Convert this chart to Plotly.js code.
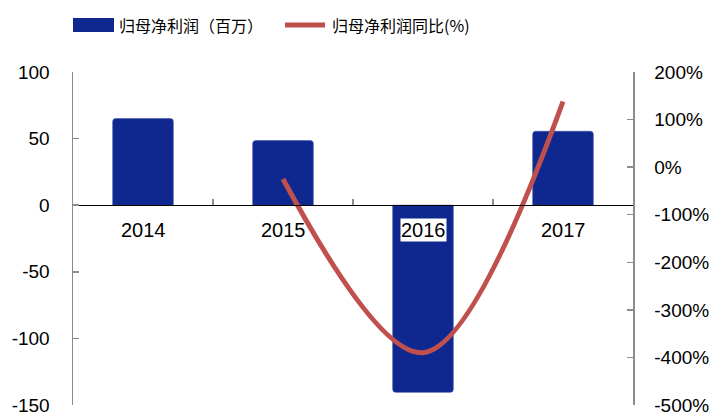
<!DOCTYPE html>
<html>
<head>
<meta charset="utf-8">
<script src="https://cdn.plot.ly/plotly-3.0.1.min.js"></script>
<style>html,body{margin:0;padding:0;background:#fff;}#chart{width:716px;height:412px;}</style>
</head>
<body>
<div id="chart"></div>
<script>
var categories = ['2014', '2015', '2016', '2017'];
var profitValues = [65, 48.5, -140.5, 55.5];
var growthCategories = ['2015', '2016', '2017'];
var growthValues = [-25, -390, 138];
var seriesNames = ['归母净利润（百万）', '归母净利润同比(%)'];
var leftTickVals = [100, 50, 0, -50, -100, -150];
var leftTickText = ['100', '50', '0', '-50', '-100', '-150'];
var rightTickVals = [200, 100, 0, -100, -200, -300, -400, -500];
var rightTickText = ['200%', '100%', '0%', '-100%', '-200%', '-300%', '-400%', '-500%'];

var barColor = '#0F2890';
var lineColor = '#C0504D';
var axisColor = '#8C8C8C';
var cjk = '"Noto Sans CJK SC", "Liberation Sans", Arial, sans-serif';
var latin = '"Liberation Sans", Arial, sans-serif';

var traces = [
  {
    type: 'bar', name: seriesNames[0], x: categories, y: profitValues,
    marker: {color: barColor, cornerradius: 3, line: {color: '#3A4FA8', width: 0.6}},
    yaxis: 'y', hoverinfo: 'skip', showlegend: false
  },
  {
    type: 'scatter', mode: 'lines', name: seriesNames[1], x: growthCategories, y: growthValues,
    line: {color: lineColor, width: 5, shape: 'spline', smoothing: 1},
    yaxis: 'y2', hoverinfo: 'skip', showlegend: false
  }
];

var annotations = categories.map(function (c, i) {
  return {
    x: i, y: 0, xref: 'x', yref: 'y', text: c, showarrow: false,
    xanchor: 'center', yanchor: 'middle', yshift: -25,
    bgcolor: profitValues[i] < 0 ? '#ffffff' : 'rgba(0,0,0,0)', borderpad: 0,
    font: {family: latin, size: 20, color: '#000'}
  };
});
annotations.push({
  x: 0.0786, y: 1.141, xref: 'paper', yref: 'paper', text: seriesNames[0], showarrow: false,
  xanchor: 'left', yanchor: 'middle', font: {family: cjk, size: 16, color: '#000'}
});
annotations.push({
  x: 0.459, y: 1.141, xref: 'paper', yref: 'paper', text: seriesNames[1], showarrow: false,
  xanchor: 'left', yanchor: 'middle', font: {family: cjk, size: 16, color: '#000'}
});

var shapes = [
  {type: 'rect', xref: 'paper', yref: 'paper', x0: 0, x1: 0.0732, y0: 1.120, y1: 1.162,
   fillcolor: barColor, line: {width: 0}},
  {type: 'line', xref: 'paper', yref: 'paper', x0: 0.3786, x1: 0.45, y0: 1.141, y1: 1.141,
   line: {color: lineColor, width: 5}}
];

var layout = {
  width: 716, height: 412,
  margin: {l: 73, r: 83, t: 72, b: 7, pad: 0},
  paper_bgcolor: '#fff', plot_bgcolor: 'rgba(0,0,0,0)',
  showlegend: false,
  bargap: 0.567,
  xaxis: {
    type: 'category', range: [-0.5, 3.5], anchor: 'free', position: 0.6,
    showline: true, linecolor: '#000', linewidth: 1,
    ticks: 'inside', tickson: 'boundaries', ticklen: 6, tickcolor: axisColor, tickwidth: 1.5,
    showticklabels: false, showgrid: false, zeroline: false, fixedrange: true
  },
  yaxis: {
    range: [-150, 100], tickmode: 'array', tickvals: leftTickVals, ticktext: leftTickText,
    showline: true, linecolor: axisColor, linewidth: 1.5,
    ticks: 'inside', ticklen: 6, tickcolor: axisColor, tickwidth: 1.5,
    showgrid: false, zeroline: false, ticklabeloverflow: 'allow',
    tickfont: {family: latin, size: 19, color: '#000'}, ticklabelstandoff: 18
  },
  yaxis2: {
    overlaying: 'y', side: 'right', range: [-500, 200],
    tickmode: 'array', tickvals: rightTickVals, ticktext: rightTickText,
    showline: true, linecolor: axisColor, linewidth: 1.5,
    ticks: 'inside', ticklen: 6, tickcolor: axisColor, tickwidth: 1.5,
    showgrid: false, zeroline: false, ticklabeloverflow: 'allow',
    tickfont: {family: latin, size: 19, color: '#000'}, ticklabelstandoff: 16
  },
  annotations: annotations,
  shapes: shapes
};

Plotly.newPlot('chart', traces, layout, {displayModeBar: false, staticPlot: true});
</script>
</body>
</html>
